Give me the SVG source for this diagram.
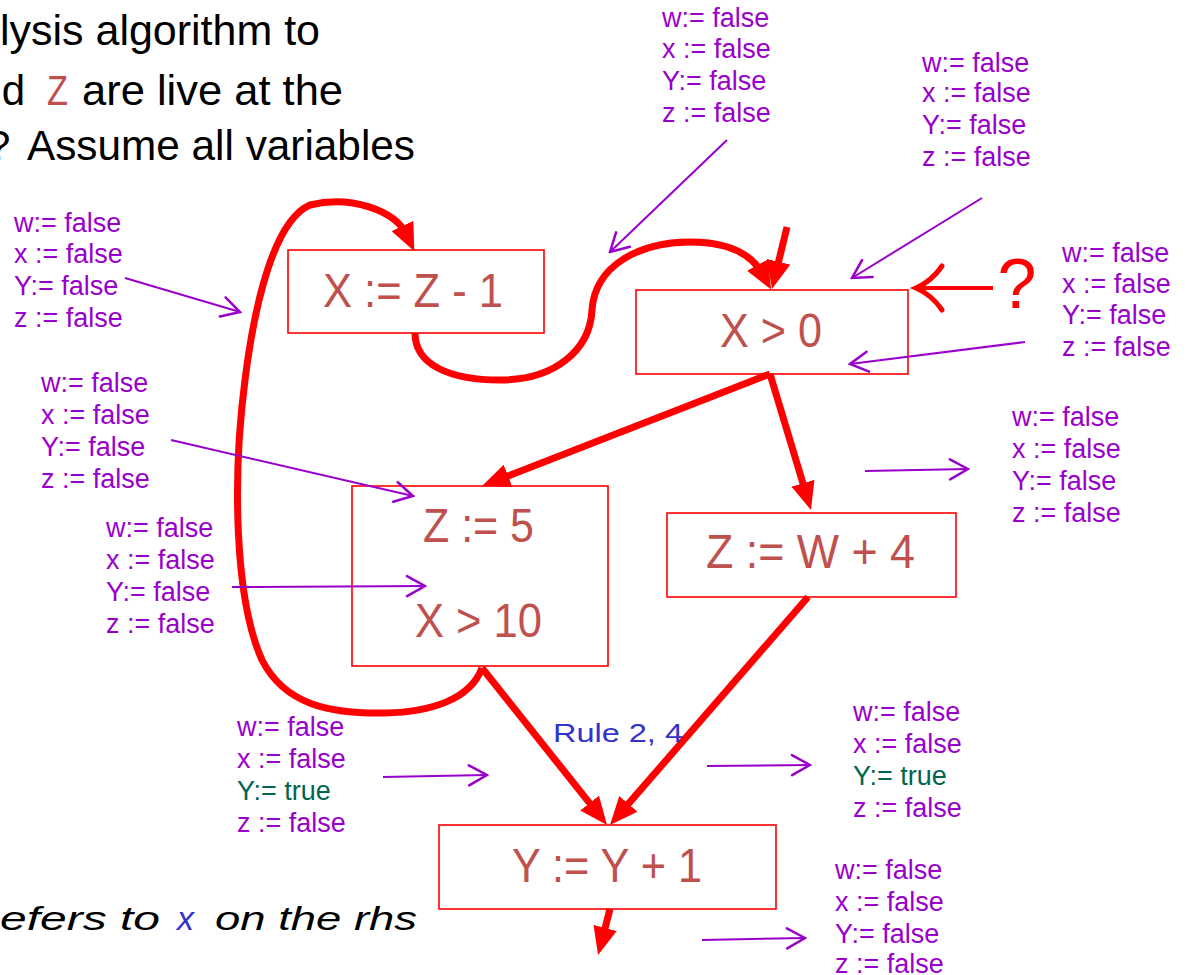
<svg xmlns="http://www.w3.org/2000/svg" width="1190" height="975" viewBox="0 0 1190 975">
<style>
.hdr{font-family:"Liberation Sans",Arial,sans-serif;font-size:42px;fill:#000}
.box{fill:#fff;stroke:#ff0000;stroke-width:1.6}
.bt{font-family:"Liberation Sans",Arial,sans-serif;font-size:48px;fill:#c0504d}
.st{font-family:"Liberation Sans",Arial,sans-serif;font-size:27px;fill:#9900cc}
.gr{fill:#006650}
.red{fill:none;stroke:#ff0000;stroke-width:7}
.pl{fill:none;stroke:#9900cc;stroke-width:2}
.rule{font-family:"Liberation Sans",Arial,sans-serif;font-size:26px;fill:#3333cc}
.it{font-family:"Liberation Sans",Arial,sans-serif;font-size:34px;font-style:italic;fill:#000}
</style>
<defs>
<marker id="rh" viewBox="0 0 28 24" refX="10" refY="12" markerWidth="28" markerHeight="24" markerUnits="userSpaceOnUse" orient="auto">
<path d="M0,0 L28,12 L0,24 z" fill="#ff0000"/>
</marker>
<marker id="ph" viewBox="0 0 22 24" refX="20" refY="12" markerWidth="22" markerHeight="24" markerUnits="userSpaceOnUse" orient="auto">
<path d="M2,2 L20,12 L2,22" fill="none" stroke="#9900cc" stroke-width="2.5" stroke-linecap="round"/>
</marker>
</defs>
<rect width="1190" height="975" fill="#fff"/>

<g id="header">
<text class="hdr" x="0" y="45" textLength="320" lengthAdjust="spacingAndGlyphs">lysis algorithm to</text>
<text class="hdr" x="25" y="105" text-anchor="end">nd</text>
<text class="hdr" x="47" y="105" textLength="21" lengthAdjust="spacingAndGlyphs" style="fill:#c0504d">Z</text>
<text class="hdr" x="82" y="105" textLength="261" lengthAdjust="spacingAndGlyphs">are live at the</text>
<text class="hdr" x="-13" y="160">?</text>
<text class="hdr" x="27" y="160" textLength="388" lengthAdjust="spacingAndGlyphs">Assume all variables</text>
</g>

<g id="node-x-assign">
<rect class="box" x="288" y="250" width="256" height="83"/>
<text class="bt" x="323" y="307" textLength="180" lengthAdjust="spacingAndGlyphs">X := Z - 1</text>
</g>
<g id="node-x-gt-0">
<rect class="box" x="636" y="290" width="272" height="84"/>
<text class="bt" x="720" y="347" textLength="102" lengthAdjust="spacingAndGlyphs">X &gt; 0</text>
</g>
<g id="node-z5">
<rect class="box" x="352" y="486" width="256" height="180"/>
<text class="bt" x="423" y="542" textLength="111" lengthAdjust="spacingAndGlyphs">Z := 5</text>
<text class="bt" x="415" y="637" textLength="127" lengthAdjust="spacingAndGlyphs">X &gt; 10</text>
</g>
<g id="node-zw4">
<rect class="box" x="667" y="513" width="289" height="84"/>
<text class="bt" x="706" y="568" textLength="209" lengthAdjust="spacingAndGlyphs">Z := W + 4</text>
</g>
<g id="node-y-inc">
<rect class="box" x="439" y="825" width="337" height="84"/>
<text class="bt" x="512" y="882" textLength="190" lengthAdjust="spacingAndGlyphs">Y := Y + 1</text>
</g>

<g id="connectors">
<path class="red" d="M482,668 C470,700 430,712 385,713 C330,714 285,705 262,660 C235,600 232,480 245,380 C255,300 275,220 310,205 C350,195 395,210 406.7,235" stroke-width="6" marker-end="url(#rh)"/>
<path class="red" d="M415,333 C415,365 450,380 500,380 C555,380 590,350 592,310 C595,265 640,242 690,242 C730,242 752,255 762.4,273.8" stroke-width="6" marker-end="url(#rh)"/>
<path class="red" d="M787,227 L776.2,271.5" marker-end="url(#rh)"/>
<path class="red" d="M770,374 L498.8,479.5" marker-end="url(#rh)"/>
<path class="red" d="M770,374 L805.8,492.8" marker-end="url(#rh)"/>
<path class="red" d="M482,668 L595.8,810.9" marker-end="url(#rh)"/>
<path class="red" d="M808,597 L621.8,811.4" marker-end="url(#rh)"/>
<path class="red" d="M610,909 L602.6,937.6" marker-end="url(#rh)"/>
<path d="M993,288 L918,288" fill="none" stroke="#ff0000" stroke-width="4"/>
<path d="M942,266 Q932,281 916,288 Q932,295 942,310" fill="none" stroke="#ff0000" stroke-width="5" stroke-linecap="round"/>
<path class="pl" d="M727,140 L610,252" marker-end="url(#ph)"/>
<path class="pl" d="M982,198 L852,278" marker-end="url(#ph)"/>
<path class="pl" d="M1025,342 L850,364" marker-end="url(#ph)"/>
<path class="pl" d="M125,278 L240,312" marker-end="url(#ph)"/>
<path class="pl" d="M171,440 L413,496" marker-end="url(#ph)"/>
<path class="pl" d="M232,587 L425,586" marker-end="url(#ph)"/>
<path class="pl" d="M383,777 L487,775" marker-end="url(#ph)"/>
<path class="pl" d="M707,766 L810,765" marker-end="url(#ph)"/>
<path class="pl" d="M865,471 L968,469" marker-end="url(#ph)"/>
<path class="pl" d="M702,940 L805,938" marker-end="url(#ph)"/>
</g>

<g id="labels">
<text x="1017" y="308" text-anchor="middle" style="font-family:'Liberation Sans',Arial,sans-serif;font-size:70px;fill:#ff0000">?</text>
<text class="rule" x="553" y="742" textLength="130" lengthAdjust="spacingAndGlyphs">Rule 2, 4</text>
<text class="it" x="0" y="930" textLength="160" lengthAdjust="spacingAndGlyphs">efers to</text>
<text class="it" x="177" y="930" style="fill:#3333cc">x</text>
<text class="it" x="215" y="930" textLength="202" lengthAdjust="spacingAndGlyphs">on the rhs</text>
</g>

<g id="state-a" class="st">
<text x="662" y="27">w:= false</text><text x="662" y="58">x := false</text><text x="662" y="90">Y:= false</text><text x="662" y="122">z := false</text>
</g>
<g id="state-b" class="st">
<text x="922" y="72">w:= false</text><text x="922" y="102">x := false</text><text x="922" y="134">Y:= false</text><text x="922" y="166">z := false</text>
</g>
<g id="state-c" class="st">
<text x="1062" y="262">w:= false</text><text x="1062" y="293">x := false</text><text x="1062" y="324">Y:= false</text><text x="1062" y="356">z := false</text>
</g>
<g id="state-d" class="st">
<text x="14" y="232">w:= false</text><text x="14" y="263">x := false</text><text x="14" y="295">Y:= false</text><text x="14" y="327">z := false</text>
</g>
<g id="state-e" class="st">
<text x="41" y="392">w:= false</text><text x="41" y="424">x := false</text><text x="41" y="456">Y:= false</text><text x="41" y="488">z := false</text>
</g>
<g id="state-f" class="st">
<text x="106" y="537">w:= false</text><text x="106" y="569">x := false</text><text x="106" y="601">Y:= false</text><text x="106" y="633">z := false</text>
</g>
<g id="state-g" class="st">
<text x="237" y="736">w:= false</text><text x="237" y="768">x := false</text><text x="237" y="800" class="gr">Y:= true</text><text x="237" y="832">z := false</text>
</g>
<g id="state-h" class="st">
<text x="853" y="721">w:= false</text><text x="853" y="753">x := false</text><text x="853" y="785" class="gr">Y:= true</text><text x="853" y="817">z := false</text>
</g>
<g id="state-i" class="st">
<text x="1012" y="426">w:= false</text><text x="1012" y="458">x := false</text><text x="1012" y="490">Y:= false</text><text x="1012" y="522">z := false</text>
</g>
<g id="state-j" class="st">
<text x="835" y="879">w:= false</text><text x="835" y="911">x := false</text><text x="835" y="943">Y:= false</text><text x="835" y="973">z := false</text>
</g>
</svg>
